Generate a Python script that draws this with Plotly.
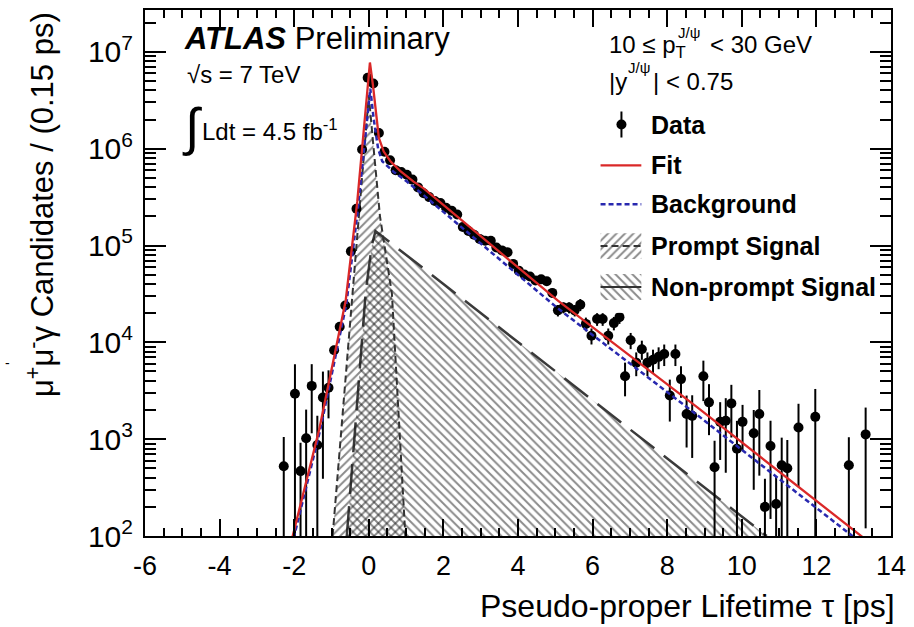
import plotly.graph_objects as go

W, H = 914, 627
L, R, T, B = 145, 895, 8, 536

def px(x):
    return (x - L) / (R - L)

def py(y):
    return (B - y) / (B - T)

# ---------------- data ----------------
tau = [-2.28, -1.98, -1.83, -1.68, -1.53, -1.38, -1.23, -1.08, -0.93, -0.78,
       -0.63, -0.48, -0.33, -0.18, -0.03, 0.12, 0.27, 0.42, 0.57, 0.72,
       0.87, 1.02, 1.17, 1.32, 1.47, 1.62, 1.77, 1.92, 2.07, 2.22,
       2.37, 2.52, 2.67, 2.82, 2.97, 3.12, 3.27, 3.42, 3.57, 3.72,
       3.87, 4.02, 4.17, 4.32, 4.47, 4.62, 4.77, 4.92, 5.07, 5.22,
       5.37, 5.52, 5.67, 5.82, 5.97, 6.12, 6.27, 6.42, 6.57, 6.72,
       6.87, 7.02, 7.17, 7.32, 7.47, 7.62, 7.77, 7.92, 8.07, 8.22,
       8.37, 8.52, 8.67, 8.97, 9.12, 9.27, 9.42, 9.57, 9.72, 9.87,
       10.02, 10.32, 10.47, 10.62, 10.77, 10.92, 11.07, 11.22, 11.52, 11.97,
       12.87, 13.32]
counts = [525, 2950, 468, 1020, 3550, 870, 2690, 3390, 8300, 14500,
          24000, 87000, 240000, 980000, 5400000, 4700000, 1450000, 930000, 760000, 600000,
          575000, 537000, 479000, 398000, 347000, 316000, 288000, 275000, 245000, 229000,
          209000, 155000, 141000, 129000, 117000, 112000, 112000, 95500, 89000, 85000,
          64600, 55000, 50100, 47900, 43600, 44700, 42700, 32400, 21400, 22900,
          22900, 21400, 24500, 15500, 11700, 17400, 17400, 11700, 15800, 18200,
          4470, 10500, 6170, 8500, 6170, 6600, 7080, 7590, 2820, 7590,
          4170, 1820, 1740, 4470, 2400, 513, 1510, 1550, 2340, 795,
          1510, 1150, 1820, 200, 850, 214, 537, 500, 1320, 1700,
          537, 1120]
errors = [525, 3000, 450, 1000, 2400, 870, 2300, 1750, 900, 1500,
          2500, 5000, 9000, 20000, 45000, 45000, 25000, 19000, 17000, 15500,
          15000, 14600, 13800, 12600, 11800, 11200, 10700, 10500, 9900, 9600,
          9100, 7900, 7500, 7200, 6800, 6700, 6700, 6200, 6000, 5800,
          5100, 4700, 4500, 4400, 4200, 4200, 4100, 3600, 2900, 3000,
          3000, 2900, 3500, 2500, 2200, 2600, 2600, 2200, 2500, 2700,
          1700, 2000, 1700, 1900, 1700, 1800, 1800, 1900, 1300, 1900,
          1500, 1000, 1100, 2000, 1300, 450, 900, 1100, 1300, 750,
          750, 850, 1400, 190, 700, 200, 500, 480, 1000, 1600,
          510, 1000]

# fit model curves (knots)
fit_x = [-2.10, -2.04, -1.33, -0.62, -0.31, -0.13, 0.03, 0.11, 0.20, 0.27,
         0.40, 0.58, 0.84, 1.20, 1.47, 3.00, 5.07, 8.80, 13.20, 13.40]
fit_y = [79, 100, 1260, 26900, 282000, 1780000, 7760000, 4570000, 2040000, 1290000,
         933000, 741000, 589000, 457000, 389000, 126000, 26900, 2140, 100, 87]

bkg_x = [-2.06, -2.00, -1.30, -0.60, -0.30, -0.10, 0.04, 0.13, 0.25, 0.36,
         0.67, 1.02, 1.47, 3.00, 5.07, 8.80, 12.98, 13.20]
bkg_y = [79, 100, 1260, 25100, 224000, 1260000, 4170000, 2040000, 1000000, 741000,
         575000, 457000, 331000, 105000, 22400, 1780, 100, 85]

prompt_x = [-0.97, -0.44, -0.13, 0.00, 0.13, 0.30, 0.62, 0.98]
prompt_y = [100, 31600, 933000, 3550000, 1000000, 200000, 31600, 100]

nonprompt_x = [-0.59, -0.08, 0.08, 0.18, 10.67]
nonprompt_y = [100, 33900, 100000, 141000, 100]

x_tickvals = [-6, -4, -2, 0, 2, 4, 6, 8, 10, 12, 14]
x_ticktext = ["-6", "-4", "-2", "0", "2", "4", "6", "8", "10", "12", "14"]
y_tickvals = [1e2, 1e3, 1e4, 1e5, 1e6, 1e7]
y_ticktext = ["10<sup>2</sup>", "10<sup>3</sup>", "10<sup>4</sup>",
              "10<sup>5</sup>", "10<sup>6</sup>", "10<sup>7</sup>"]
y_minor = [m * 10 ** e for e in range(2, 8) for m in range(2, 10)]

FONT = "Liberation Sans, Arial, Helvetica, sans-serif"
RED = "rgb(218,40,40)"
BLUE = "rgb(40,40,175)"
HATCH = "#151515"
PAT_SIZE = 6
PAT_SOL = 0.32

errs_minus = [min(e, c * 0.999) for e, c in zip(errors, counts)]

fig = go.Figure()

# non-prompt signal
fig.add_trace(go.Scatter(
    x=nonprompt_x, y=nonprompt_y, mode="lines", fill="toself",
    fillcolor="rgba(255,255,255,0)",
    fillpattern=dict(shape="\\", fgcolor=HATCH, bgcolor="rgba(255,255,255,0)",
                     size=PAT_SIZE, solidity=PAT_SOL),
    line=dict(color="#3a3a3a", width=2.5, dash="30px,12px"),
    hoverinfo="skip", showlegend=False))

# prompt signal
fig.add_trace(go.Scatter(
    x=prompt_x, y=prompt_y, mode="lines", fill="toself",
    fillcolor="rgba(255,255,255,0)",
    fillpattern=dict(shape="/", fgcolor=HATCH, bgcolor="rgba(255,255,255,0)",
                     size=PAT_SIZE, solidity=PAT_SOL),
    line=dict(color="#333333", width=2, dash="7px,4px"),
    hoverinfo="skip", showlegend=False))

# data
fig.add_trace(go.Scatter(
    x=tau, y=counts, mode="markers",
    marker=dict(color="black", size=10),
    error_y=dict(type="data", symmetric=False, array=errors, arrayminus=errs_minus,
                 thickness=2, width=0, color="black"),
    showlegend=False))

# background
fig.add_trace(go.Scatter(
    x=bkg_x, y=bkg_y, mode="lines",
    line=dict(color=BLUE, width=2.5, dash="5px,3px"), showlegend=False))

# fit
fig.add_trace(go.Scatter(
    x=fit_x, y=fit_y, mode="lines",
    line=dict(color=RED, width=2.3), showlegend=False))

# ---------------- legend swatches on an auxiliary pixel-like axis ----------------
lx0, lx1 = 603, 644
fig.add_trace(go.Scatter(
    x=[624], y=[123], mode="markers", xaxis="x2", yaxis="y2",
    marker=dict(color="black", size=10),
    error_y=dict(type="data", array=[13], thickness=2, width=0, color="black"),
    showlegend=False))
fig.add_trace(go.Scatter(x=[lx0, lx1], y=[164, 164], mode="lines", xaxis="x2", yaxis="y2",
                         line=dict(color=RED, width=2.3), showlegend=False))
fig.add_trace(go.Scatter(x=[lx0, lx1], y=[203, 203], mode="lines", xaxis="x2", yaxis="y2",
                         line=dict(color=BLUE, width=2.5, dash="5px,3px"), showlegend=False))
for (yc, shp, dsh) in [(245, "/", "7px,4px"), (286, "\\", "solid")]:
    fig.add_trace(go.Scatter(
        x=[lx0, lx1, lx1, lx0, lx0], y=[yc - 13, yc - 13, yc + 13, yc + 13, yc - 13],
        mode="lines", fill="toself", xaxis="x2", yaxis="y2",
        fillcolor="rgba(255,255,255,0)",
        fillpattern=dict(shape=shp, fgcolor=HATCH, bgcolor="rgba(255,255,255,0)",
                         size=PAT_SIZE, solidity=PAT_SOL),
        line=dict(width=0), hoverinfo="skip", showlegend=False))
    fig.add_trace(go.Scatter(x=[lx0, lx1], y=[yc, yc], mode="lines", xaxis="x2", yaxis="y2",
                             line=dict(color="#333333", width=2, dash=dsh), showlegend=False))

# ---------------- annotations ----------------
def ann(text, x, y, size, xanchor="left", yanchor="middle", angle=0, color="black"):
    return dict(text=text, x=px(x), y=py(y), xref="paper", yref="paper",
                xanchor=xanchor, yanchor=yanchor, showarrow=False, textangle=angle,
                borderpad=0,
                font=dict(family=FONT, size=size, color=color))

annotations = [
    ann("<b><i>ATLAS</i></b> Preliminary", 183, 37, 31),
    ann("√s = 7 TeV", 186, 73, 24),
    ann("∫", 181, 126, 52),
    ann("Ldt = 4.5 fb<sup>-1</sup>", 201, 128, 24),
    ann("10 ≤ p<sub>T</sub>", 610, 45, 24),
    ann("J/ψ", 680, 31, 15),
    ann("< 30 GeV", 712, 43, 24),
    ann("|y", 610, 80, 24),
    ann("J/ψ", 630, 66, 15),
    ann("| < 0.75", 655, 80, 24),
    ann("<b>Data</b>", 653, 123, 25),
    ann("<b>Fit</b>", 653, 164, 25),
    ann("<b>Background</b>", 653, 203, 25),
    ann("<b>Prompt Signal</b>", 653, 245, 25),
    ann("<b>Non-prompt Signal</b>", 653, 286, 25),
    ann("Pseudo-proper Lifetime τ [ps]", 900, 606, 32, xanchor="right"),
    ann("μ<sup>+</sup>μ<sup>-</sup>γ Candidates / (0.15 ps)", 40, 9, 31,
        xanchor="center", yanchor="top", angle=-90),
    ann("-", 3, 362, 14),
]

axis_common = dict(showline=True, linewidth=2, linecolor="black", mirror="ticks",
                   showgrid=False, zeroline=False, ticks="inside", tickcolor="black",
                   tickwidth=1.5)

fig.update_layout(
    width=W, height=H, autosize=False,
    margin=dict(l=L, r=W - R, t=T, b=H - B, pad=0),
    paper_bgcolor="white", plot_bgcolor="white",
    font=dict(family=FONT, color="black"),
    xaxis=dict(range=[-6, 14], tickmode="array", tickvals=x_tickvals, ticktext=x_ticktext,
               ticklen=17, tickfont=dict(size=27, family=FONT),
               minor=dict(ticks="inside", ticklen=8, dtick=0.5, tick0=0,
                          tickwidth=1.5, tickcolor="black", showgrid=False),
               ticklabelstandoff=5, **axis_common),
    yaxis=dict(type="log", range=[2, 7.432], tickmode="array", tickvals=y_tickvals,
               ticktext=y_ticktext, ticklen=21, tickfont=dict(size=30, family=FONT),
               minor=dict(ticks="inside", ticklen=11, tickmode="array", tickvals=y_minor,
                          tickwidth=1.5, tickcolor="black", showgrid=False),
               ticklabelstandoff=4, **axis_common),
    xaxis2=dict(domain=[px(598), px(652)], range=[598, 652], visible=False,
                anchor="y2", fixedrange=True),
    yaxis2=dict(domain=[py(312), py(100)], range=[312, 100], visible=False,
                anchor="x2", fixedrange=True),
    annotations=annotations,
    showlegend=False,
)

fig.write_html("out.html")
